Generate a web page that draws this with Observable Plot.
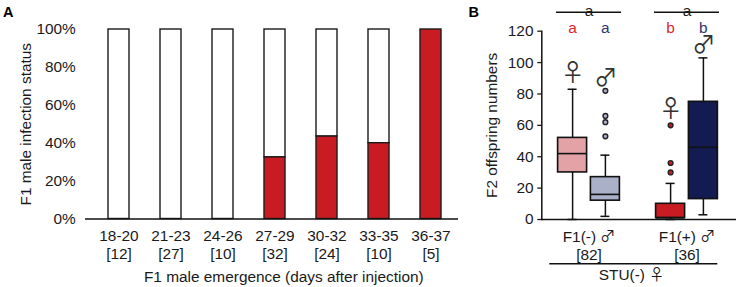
<!DOCTYPE html>
<html><head><meta charset="utf-8">
<script src="https://cdn.jsdelivr.net/npm/d3@7"></script>
<script src="https://cdn.jsdelivr.net/npm/@observablehq/plot@0.6"></script>
<style>
@font-face{font-family:"SexSym";src:local("Noto Sans CJK JP"),local("NotoSansCJKjp-Regular"),local("Noto Sans CJK JP Regular");unicode-range:U+2640,U+2642;}
body{margin:0;background:#fff}
#wrap{position:relative;width:736px;height:287px}
#wrap svg{position:absolute;left:0;top:0;overflow:visible}
</style></head><body><div id="wrap"></div>
<script>
// ---- Panel A data ----
const emergence = ["18-20","21-23","24-26","27-29","30-32","33-35","36-37"];
const sampleSizesA = ["[12]","[27]","[10]","[32]","[24]","[10]","[5]"];
const infectedPct = [0,0,0,32.5,43.5,40,100];
const percentTicks = [0,20,40,60,80,100];

// ---- Panel B data ----
const groupsB = ["F1(-) ♂","F1(+) ♂"];
const sampleSizesB = ["[82]","[36]"];
const groupLetters = ["a","a"];
const boxGroup = ["F1(-) ♂","F1(-) ♂","F1(+) ♂","F1(+) ♂"];
const boxSex = ["♀","♂","♀","♂"];
const boxLetter = ["a","a","b","b"];
const boxMin = [0, 2, 0, 3];
const boxQ1 = [30, 12, 1, 13];
const boxMedian = [42, 16, 1, 46];
const boxQ3 = [52, 27, 10, 75];
const boxMax = [83, 41, 23, 103];
const outlierGroup = ["F1(-) ♂","F1(-) ♂","F1(-) ♂","F1(-) ♂","F1(+) ♂","F1(+) ♂","F1(+) ♂"];
const outlierSex = ["♂","♂","♂","♂","♀","♀","♀"];
const outlierValue = [82,66,62,53,60,36,30];
const countTicks = [0,20,40,60,80,100,120];

// ---- styles ----
const RED = "#c91c22";
const boxFill = ["#e3a3a6","#a9b0c8","#c91c22","#131b52"];
const letterColor = {"♀":"#e0262c","♂":"#2d3472"};
const FONT = "SexSym, 'Liberation Sans', Arial, Helvetica, sans-serif";
const FS = 15.4;
const svgStyle = `font-family:${FONT};font-size:${FS}px;color:#1a1a1a;background:none;overflow:visible`;

const wrap = document.getElementById("wrap");

// ---- Panel A ----
const rowsA = emergence.map((c,i)=>({cat:c, inf:infectedPct[i]}));
const plotA = Plot.plot({
  width:736, height:287,
  marginLeft:85, marginRight:278, marginTop:29, marginBottom:68.5,
  style: svgStyle,
  x:{domain:emergence, paddingInner:0.6025, paddingOuter:0.331, align:0.571},
  y:{domain:[0,100]},
  marks:[
    Plot.barY(rowsA.filter(d=>d.inf<100), {x:"cat", y1:"inf", y2:100, fill:"white", stroke:"#1a1a1a", strokeWidth:1.4}),
    Plot.barY(rowsA.filter(d=>d.inf>0), {x:"cat", y1:0, y2:"inf", fill:RED, stroke:"#1a1a1a", strokeWidth:1.4}),
    Plot.ruleY([0], {stroke:"#111", strokeWidth:1.5}),
    Plot.axisY({ticks:percentTicks, tickFormat:d=>d+"%", tickSize:0, tickPadding:9.7, label:null, fontSize:FS}),
    Plot.axisX({tickSize:0, tickPadding:9, label:null, fontSize:FS, lineHeight:18/FS,
      tickFormat:d=>d+"\n"+sampleSizesA[emergence.indexOf(d)]}),
    Plot.text(["F1 male emergence (days after injection)"], {text:d=>d, frameAnchor:"bottom", dx:11.8, dy:62.5, fontSize:FS, fill:"#1a1a1a"}),
    Plot.text(["F1 male infection status"], {text:d=>d, frameAnchor:"left", textAnchor:"middle", rotate:-90, dx:-59, fontSize:FS, fill:"#1a1a1a"}),
    Plot.text(["A"], {text:d=>d, frameAnchor:"top-left", textAnchor:"start", lineAnchor:"top", dx:-82.5, dy:-23, fontSize:14.5, fontWeight:"bold", fill:"#000"})
  ]
});
wrap.appendChild(plotA);

// ---- Panel B ----
const boxes = boxGroup.map((g,i)=>({group:g, sex:boxSex[i], letter:boxLetter[i], min:boxMin[i], q1:boxQ1[i], med:boxMedian[i], q3:boxQ3[i], max:boxMax[i], fill:boxFill[i]}));
const outliers = outlierValue.map((v,i)=>{
  const b = boxes.find(d=>d.group===outlierGroup[i] && d.sex===outlierSex[i]);
  return {group:outlierGroup[i], sex:outlierSex[i], value:v, fill:b.fill};
});
boxes.forEach(b=>{
  b.top = Math.max(b.max, ...outliers.filter(o=>o.group===b.group && o.sex===b.sex).map(o=>o.value));
});
const sexOffset = {"♀":-16.4, "♂":16.4};
const symbolDy = {"♀":-8.5, "♂":-5};
const boxMarks = Object.keys(sexOffset).flatMap(s=>{
  const b = boxes.filter(d=>d.sex===s), o = outliers.filter(d=>d.sex===s), dx = sexOffset[s];
  return [
    Plot.ruleX(b, {x:"group", y1:"min", y2:"max", dx, stroke:"#111", strokeWidth:1.5}),
    Plot.tickY(b, {x:"group", y:"max", dx, insetLeft:28, insetRight:28, stroke:"#111", strokeWidth:1.5}),
    Plot.tickY(b, {x:"group", y:"min", dx, insetLeft:28, insetRight:28, stroke:"#111", strokeWidth:1.5}),
    Plot.barY(b, {x:"group", y1:"q1", y2:"q3", dx, insetLeft:18, insetRight:18, fill:"fill", stroke:"#111", strokeWidth:1.6}),
    Plot.tickY(b, {x:"group", y:"med", dx, insetLeft:18, insetRight:18, stroke:"#111", strokeWidth:1.6}),
    Plot.dot(o, {x:"group", y:"value", dx, r:2.4, fill:"fill", stroke:"#222", strokeWidth:1.4}),
    Plot.text(b, {x:"group", y:"top", text:"sex", dx, dy:symbolDy[s], lineAnchor:"bottom", fontSize:23.5, fill:"#333"}),
    Plot.text(b, {x:"group", text:"letter", frameAnchor:"top", dx, dy:-9.1, fill:letterColor[s], fontSize:FS})
  ];
});

const plotB = Plot.plot({
  width:736, height:287,
  marginLeft:541.3, marginRight:0, marginTop:30.7, marginBottom:68,
  style: svgStyle,
  color:{type:"identity"},
  x:{domain:groupsB, paddingInner:0.3384, paddingOuter:0.16, align:0.447},
  y:{domain:[0,120]},
  marks:[
    Plot.frame({anchor:"left", stroke:"#111", strokeWidth:1.5}),
    Plot.ruleY([0], {stroke:"#111", strokeWidth:1.5}),
    Plot.axisY({ticks:countTicks, tickSize:4, tickPadding:4.3, label:null, fontSize:FS, strokeWidth:1.3}),
    Plot.axisX({tickSize:0, tickPadding:10, label:null, fontSize:FS, lineHeight:18/FS,
      tickFormat:d=>d+"\n"+sampleSizesB[groupsB.indexOf(d)]}),
    ...boxMarks,
    Plot.ruleY(groupsB, {x1:d=>d, x2:d=>d, y:120, dy:-19, stroke:"#111", strokeWidth:1.5}),
    Plot.text(groupsB, {x:d=>d, text:(d,i)=>groupLetters[i], frameAnchor:"top", dy:-26.1, fontSize:FS, fill:"#1a1a1a"}),
    Plot.ruleY([0], {dy:44.3, insetLeft:8, insetRight:18.7, stroke:"#111", strokeWidth:1.5}),
    Plot.text(["STU(-) ♀"], {text:d=>d, frameAnchor:"bottom", dx:-7.65, dy:60, fontSize:FS, fill:"#1a1a1a"}),
    Plot.text(["F2 offspring numbers"], {text:d=>d, frameAnchor:"left", textAnchor:"middle", rotate:-90, dx:-50, fontSize:FS, fill:"#1a1a1a"}),
    Plot.text(["B"], {text:d=>d, frameAnchor:"top-left", textAnchor:"start", lineAnchor:"top", dx:-73.3, dy:-24.7, fontSize:14.5, fontWeight:"bold", fill:"#000"})
  ]
});
wrap.appendChild(plotB);
</script>
</body></html>
